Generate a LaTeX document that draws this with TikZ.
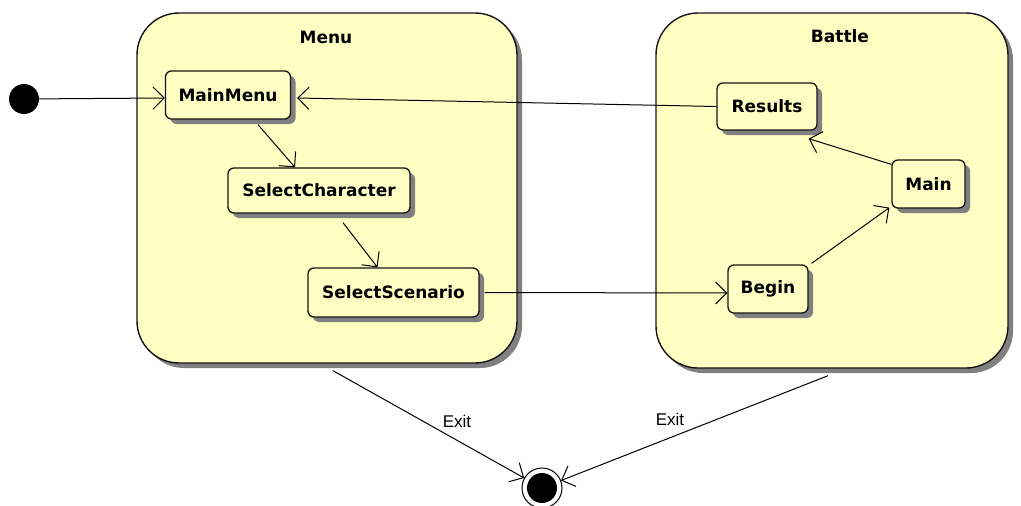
\documentclass[tikz,border=0pt]{standalone}
\usepackage{fontspec}
\usetikzlibrary{arrows.meta,shadows}
\newfontfamily\statefont{DejaVu Sans}
\newfontfamily\guardfont{Liberation Sans}
\definecolor{stfill}{RGB}{255,255,196}
\definecolor{stline}{RGB}{20,20,20}
\tikzset{
  shadowed/.style={drop shadow={shadow xshift=5pt,shadow yshift=-5pt,fill=black!50,opacity=1}},
  composite/.style={draw=stline,line width=1.4pt,fill=stfill,rounded corners=42pt,
    inner sep=0pt,shadowed={}},
  stbox/.style={draw=stline,line width=1.3pt,fill=stfill,rounded corners=6pt,
    inner sep=0pt,shadowed={},font=\statefont\bfseries\fontsize{17}{20}\selectfont},
  ctitle/.style={font=\statefont\bfseries\fontsize{17}{20}\selectfont,inner sep=0pt},
  guard/.style={font=\guardfont\fontsize{17}{20}\selectfont,inner sep=0pt},
  trans/.style={draw=black,line width=1pt,-{Straight Barb[length=11pt,width=22pt,line width=1pt]}},
  initial/.style={circle,fill=black,minimum size=30pt,inner sep=0pt},
  finalring/.style={circle,draw=black,line width=1pt,fill=white,minimum size=40pt,inner sep=0pt},
  finaldot/.style={circle,fill=black,minimum size=30pt,inner sep=0pt},
}
\begin{document}
\begin{tikzpicture}[x=1pt,y=-1pt]
\useasboundingbox (0,0) rectangle (1021,506);

% composite states
\node[composite,minimum width=380pt,minimum height=350pt] (menu) at (327,188) {};
\node[composite,minimum width=352pt,minimum height=355pt] (battle) at (832,190.5) {};
\node[ctitle] (menutitle) at (326,37) {Menu};
\node[ctitle] (battletitle) at (840,36) {Battle};

% simple states
\node[stbox,minimum width=125pt,minimum height=48pt] (mainmenu) at (228,95) {MainMenu};
\node[stbox,minimum width=182pt,minimum height=45pt] (selchar) at (319,190.5) {SelectCharacter};
\node[stbox,minimum width=171pt,minimum height=49pt] (selscen) at (393.5,292.5) {SelectScenario};
\node[stbox,minimum width=100pt,minimum height=47pt] (results) at (767,106.5) {Results};
\node[stbox,minimum width=73pt,minimum height=48pt] (main) at (928.5,184) {Main};
\node[stbox,minimum width=80pt,minimum height=48pt] (begin) at (768,289) {Begin};

% pseudo states
\node[initial] (init) at (24,99) {};
\node[finalring] (final) at (542,488) {};
\node[finaldot] (finalin) at (542,488) {};

% transitions
\draw[trans] (init) -- ([yshift=-3pt]mainmenu.west);
\draw[trans] ([xshift=30pt,yshift=-5pt]mainmenu.south) -- ([xshift=-24pt]selchar.north);
\draw[trans] ([xshift=24pt,yshift=-9pt]selchar.south) -- ([xshift=-16pt]selscen.north);
\draw[trans] ([xshift=5pt]selscen.east) -- ([yshift=-4pt]begin.west);
\draw[trans] ([xshift=3pt,yshift=1pt]begin.north east) -- ([xshift=-2pt,yshift=1pt]main.south west);
\draw[trans] ([yshift=-5pt]main.north west) -- ([xshift=-9pt,yshift=-8pt]results.south east);
\draw[trans] (results.west) -- ([xshift=6pt,yshift=-3pt]mainmenu.east);
\draw[trans] ([xshift=6pt,yshift=-7pt]menu.south) -- (final);
\draw[trans] ([xshift=-4pt,yshift=-7pt]battle.south) -- (final);

% guards
\node[guard] (exit1) at (457,421) {Exit};
\node[guard] (exit2) at (670,419) {Exit};
\end{tikzpicture}
\end{document}
